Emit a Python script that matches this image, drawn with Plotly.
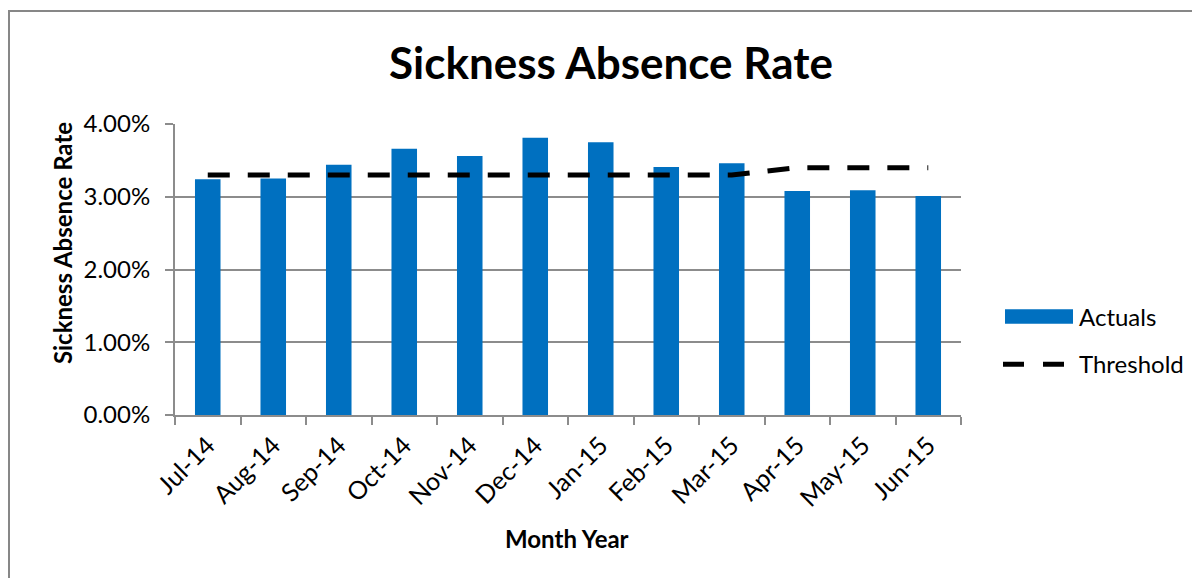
import plotly.graph_objects as go

months = ["Jul-14", "Aug-14", "Sep-14", "Oct-14", "Nov-14", "Dec-14",
          "Jan-15", "Feb-15", "Mar-15", "Apr-15", "May-15", "Jun-15"]
actuals = [0.0324, 0.0325, 0.0344, 0.0366, 0.0356, 0.0381,
           0.0375, 0.0341, 0.0346, 0.0308, 0.0309, 0.0301]
threshold = [0.033, 0.033, 0.033, 0.033, 0.033, 0.033,
             0.033, 0.033, 0.033, 0.034, 0.034, 0.034]
y_ticks = [0, 0.01, 0.02, 0.03, 0.04]

FONT = "Lato"
GRID = "#8c8c8c"
BLUE = "#0070C0"

# page body has an 8px margin, so work in figure coords = screen coords - 8
OFF = 8
W, H = 1200 - OFF, 578 - OFF
L, R, T, B = 175 - OFF, 961 - OFF, 124 - OFF, 414.7 - OFF


def px(x):
    return (x - OFF - L) / (R - L)


def py(y):
    return (B - (y - OFF)) / (B - T)


fig = go.Figure()
fig.add_trace(go.Bar(x=months, y=actuals, name="Actuals",
                     marker=dict(color=BLUE, line=dict(width=0)),
                     showlegend=False))
fig.add_trace(go.Scatter(x=months, y=threshold, name="Threshold", mode="lines",
                         line=dict(color="black", width=5, dash="22px,18px"),
                         showlegend=False))

fig.update_layout(
    width=W, height=H,
    margin=dict(l=L, r=W - R, t=T, b=H - B, autoexpand=False),
    paper_bgcolor="white", plot_bgcolor="white",
    bargap=0.61,
    font=dict(family=FONT, color="black"),
    showlegend=False,
)
fig.update_xaxes(
    type="category", tickangle=-45, tickfont=dict(size=25, family=FONT),
    ticklabelstandoff=4,
    showline=True, linecolor=GRID, linewidth=2,
    ticks="outside", tickson="boundaries", ticklen=8, tickcolor=GRID, tickwidth=2,
    showgrid=False,
)
fig.update_yaxes(
    range=[0, 0.04], tickvals=y_ticks, tickformat=".2%",
    tickfont=dict(size=24, family=FONT),
    ticklabelstandoff=10,
    showline=True, linecolor=GRID, linewidth=2,
    ticks="outside", ticklen=8, tickcolor=GRID, tickwidth=2,
    showgrid=True, gridcolor=GRID, gridwidth=2, zeroline=False,
)

shapes = [
    # outer chart border
    dict(type="rect", xref="paper", yref="paper",
         x0=px(9), x1=px(1215), y0=py(11), y1=py(610),
         line=dict(color="#878787", width=2), fillcolor="rgba(0,0,0,0)", layer="below"),
    # legend: Actuals swatch
    dict(type="rect", xref="paper", yref="paper",
         x0=px(1005), x1=px(1073), y0=py(323.5), y1=py(309),
         line=dict(width=0), fillcolor=BLUE),
    # legend: Threshold dashes
    dict(type="line", xref="paper", yref="paper",
         x0=px(1003), x1=px(1024), y0=py(364), y1=py(364),
         line=dict(color="black", width=5)),
    dict(type="line", xref="paper", yref="paper",
         x0=px(1043), x1=px(1064), y0=py(364), y1=py(364),
         line=dict(color="black", width=5)),
]
fig.update_layout(shapes=shapes)

annotations = [
    dict(text="<b>Sickness Absence Rate</b>", xref="paper", yref="paper",
         x=px(611), y=py(62), xanchor="center", yanchor="middle",
         showarrow=False, font=dict(size=44, family=FONT)),
    dict(text="<b>Sickness Absence Rate</b>", xref="paper", yref="paper",
         x=px(62), y=py(243), xanchor="center", yanchor="middle", textangle=-90,
         showarrow=False, font=dict(size=24, family=FONT)),
    dict(text="<b>Month Year</b>", xref="paper", yref="paper",
         x=px(567), y=py(538), xanchor="center", yanchor="middle",
         showarrow=False, font=dict(size=24, family=FONT)),
    dict(text="Actuals", xref="paper", yref="paper",
         x=px(1077), y=py(316), xanchor="left", yanchor="middle",
         showarrow=False, font=dict(size=24, family=FONT)),
    dict(text="Threshold", xref="paper", yref="paper",
         x=px(1077), y=py(363), xanchor="left", yanchor="middle",
         showarrow=False, font=dict(size=24, family=FONT)),
]
fig.update_layout(annotations=annotations)

fig.write_html("out.html")
